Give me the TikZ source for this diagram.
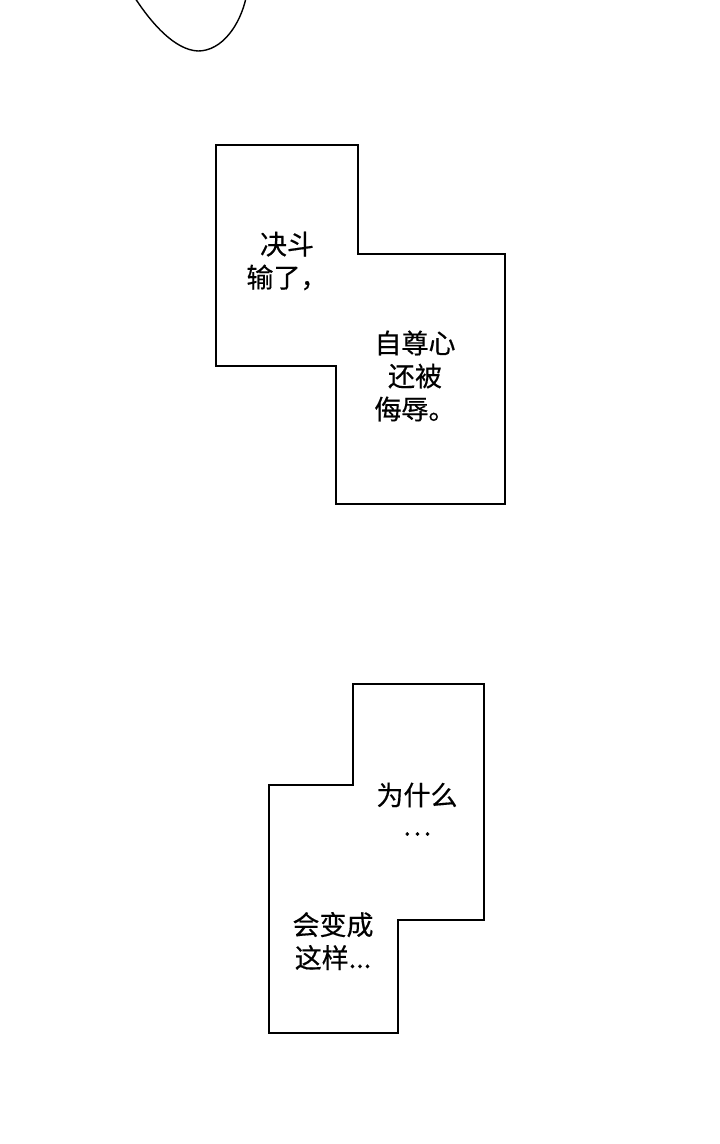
\documentclass[tikz,border=0pt]{standalone}
\usepackage{fontspec}
\newfontfamily\cjk[FakeBold=0.4]{Noto Sans CJK SC}
\begin{document}
\begin{tikzpicture}[x=1pt,y=-1pt,
  panel/.style={draw=black,line width=1.9pt,line join=miter,fill=white},
  panelthin/.style={draw=black,line width=1.5pt,line join=miter,fill=white},
  speech/.style={font=\cjk\fontsize{27}{33}\selectfont,align=center,inner sep=0pt,text=black}]
\useasboundingbox (0,0) rectangle (720,1144);
\fill[white] (0,0) rectangle (720,1144);
% hair curve at top
\draw[line width=1.4pt,line cap=round] (135,-2) .. controls (152,24) and (175,50) .. (198,51) .. controls (222,51) and (240,25) .. (246,-2);
% first panel
\draw[panel] (216,145) -- (358,145) -- (358,254) -- (505,254) -- (505,504) -- (336,504) -- (336,366) -- (216,366) -- cycle;
\node[speech] (t1) at (287,261) {决斗\\输了，};
\node[speech] (t2) at (415,376) {自尊心\\还被\\侮辱。};
% second panel
\draw[panelthin] (353,684) -- (484,684) -- (484,920) -- (398,920) -- (398,1033) -- (269,1033) -- (269,785) -- (353,785) -- cycle;
\node[speech] (t3) at (417,795) {为什么};
\node[speech] (t4) at (417,834) {…};
\node[speech] (t5) at (333,941) {会变成\\这样...};
\end{tikzpicture}
\end{document}
